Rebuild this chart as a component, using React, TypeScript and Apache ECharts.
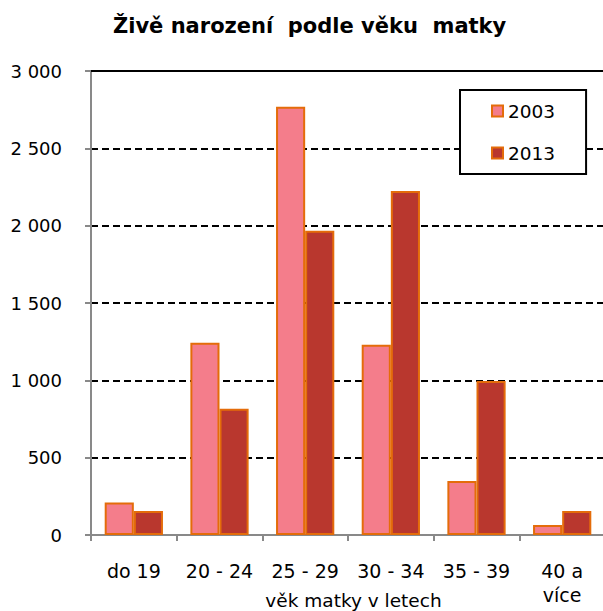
import React, { useEffect, useRef } from "react";
import * as echarts from "echarts";

const categories = ["do 19", "20 - 24", "25 - 29", "30 - 34", "35 - 39", "40 a\nvíce"];
const values2003 = [210, 1243, 2769, 1230, 349, 65];
const values2013 = [155, 816, 1967, 2224, 995, 155];
const yTicks = [0, 500, 1000, 1500, 2000, 2500, 3000];
const yTickLabels = ["0", "500", "1 000", "1 500", "2 000", "2 500", "3 000"];
const seriesNames = ["2003", "2013"];
const titleText = "Živě narození  podle věku  matky";
const xAxisName = "věk matky v letech";

const FONT = "DejaVu Sans";

export default function App() {
  const ref = useRef<HTMLDivElement>(null);
  useEffect(() => {
    if (!ref.current) return;
    const chart = echarts.init(ref.current, null, { renderer: "svg" });
    const border = "#E46C0A";
    chart.setOption({
      animation: false,
      backgroundColor: "#ffffff",
      title: {
        text: titleText,
        left: 113,
        top: 15,
        padding: 0,
        textStyle: { fontFamily: FONT, fontWeight: "bold", fontSize: 21, color: "#000" },
      },
      legend: {
        orient: "vertical",
        left: 460,
        top: 90,
        padding: [11, 31, 11, 31],
        itemGap: 22,
        itemWidth: 11,
        itemHeight: 11,
        backgroundColor: "#ffffff",
        borderColor: "#000000",
        borderWidth: 2,
        borderRadius: 0,
        icon: "rect",
        textStyle: { fontFamily: FONT, fontSize: 18.5, color: "#000", lineHeight: 20 },
        data: seriesNames,
      },
      grid: { left: 91, right: -2, top: 71, bottom: 76, containLabel: false, outerBoundsMode: "none" },
      xAxis: {
        type: "category",
        data: categories,
        boundaryGap: true,
        name: xAxisName,
        nameLocation: "middle",
        nameGap: 56,
        nameMoveOverlap: false,
        nameTextStyle: { fontFamily: FONT, fontSize: 18.5, color: "#000", padding: [0, 0, 0, 11] },
        axisLine: { lineStyle: { color: "#898989", width: 2 } },
        axisTick: { show: true, length: 6, lineStyle: { color: "#898989", width: 2 } },
        axisLabel: { fontFamily: FONT, fontSize: 19, color: "#000", margin: 24, lineHeight: 24, interval: 0 },
      },
      yAxis: {
        type: "value",
        min: 0,
        max: 3000,
        interval: 500,
        axisLine: { show: true, lineStyle: { color: "#898989", width: 2 } },
        axisTick: { show: true, length: 6, lineStyle: { color: "#898989", width: 2 } },
        axisLabel: {
          fontFamily: FONT,
          fontSize: 18,
          color: "#000",
          margin: 29,
          formatter: (v: number) => {
            const i = yTicks.indexOf(v);
            return i >= 0 ? yTickLabels[i] : String(v);
          },
        },
        splitLine: { show: true, lineStyle: { color: "#000", width: 2, type: [7, 4] } },
      },
      series: [
        {
          name: seriesNames[0],
          type: "bar",
          data: values2003,
          barGap: "0%",
          barCategoryGap: "32%",
          itemStyle: { color: "#F47D8B", borderColor: border, borderWidth: 2 },
          markLine: {
            silent: true,
            symbol: "none",
            label: { show: false },
            lineStyle: { type: "solid", color: "#000", width: 2 },
            data: [{ yAxis: 3000 }],
          },
        },
        {
          name: seriesNames[1],
          type: "bar",
          data: values2013,
          barGap: "0%",
          barCategoryGap: "32%",
          itemStyle: { color: "#B9372E", borderColor: border, borderWidth: 2 },
        },
      ],
    });
    return () => chart.dispose();
  }, []);
  return (
    <div
      ref={ref}
      style={{ position: "fixed", left: 0, top: 0, width: 603, height: 611, background: "#fff" }}
    />
  );
}
